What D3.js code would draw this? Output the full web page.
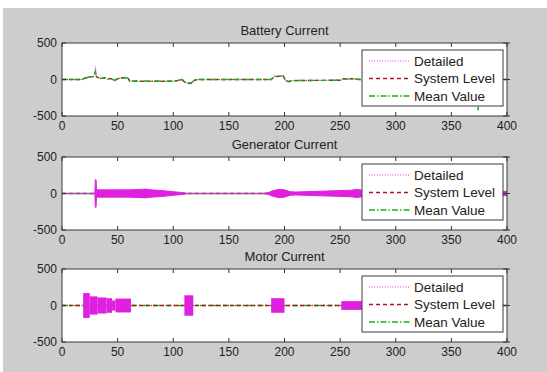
<!DOCTYPE html>
<html>
<head>
<meta charset="utf-8">
<script src="https://cdn.jsdelivr.net/npm/d3@7"></script>
<style>
  body { margin: 0; background: #fff; }
  svg { display: block; }
  text { font-family: "Liberation Sans", Arial, sans-serif; fill: #222; }
</style>
</head>
<body>
<div id="chart"></div>
<script>
// ---- data ----
const titles = ["Battery Current", "Generator Current", "Motor Current"];
const legendLabels = ["Detailed", "System Level", "Mean Value"];
const xTicks = [0, 50, 100, 150, 200, 250, 300, 350, 400];
const yTicks = [-500, 0, 500];

// battery current (A)
const batteryTime     = [0, 18, 20, 24, 28, 29, 30, 31, 32, 35, 38, 41, 44, 47, 50, 53, 56, 59, 61, 100, 104, 108, 111, 116, 119, 122, 188, 191, 199, 201, 204, 207, 250, 253, 262, 268, 372, 374, 376, 378, 400];
const batteryDetailed = [0, 0, 20, 40, 40, 60, 180, 40, 30, 10, 30, 0, 20, -20, 10, 25, 30, 30, -25, -25, -15, -5, -50, -60, -10, 0, 0, 40, 45, -20, -30, -15, -10, 10, 10, 0, 0, 0, 0, 0, 0];
const batterySystem   = [0, 0, 15, 35, 40, 50, 60, 40, 30, 10, 25, 5, 15, -15, 10, 20, 25, 25, -25, -25, -15, -5, -45, -55, -10, 0, 0, 40, 45, -20, -30, -15, -10, 10, 10, 0, 0, 0, 0, 0, 0];
const batteryMean     = [0, 0, 15, 30, 40, 60, 110, 40, 30, 15, 20, 10, 10, -10, 10, 20, 20, 20, -20, -20, -10, 0, -40, -50, -10, 0, 0, 45, 50, -15, -25, -15, -10, 5, 5, 0, 0, -420, 0, 0, 0];

// generator current: envelope of the switching ripple (+/- A)
const generatorTime   = [0, 29.5, 30, 30.6, 31, 40, 60, 70, 75, 80, 90, 100, 110, 112, 180, 185, 190, 195, 200, 205, 210, 260, 265, 270, 275, 400];
const generatorRipple = [0, 0, 190, 190, 50, 50, 50, 55, 60, 50, 40, 25, 10, 0, 0, 10, 40, 55, 50, 25, 20, 45, 55, 45, 30, 30];
const generatorSystem = [0, 0];
const generatorMean   = [0, 0];
const generatorSpan   = [0, 400];

// motor current: switching bursts (start, end, +/- amplitude)
const motorBurstStart = [19, 25, 32, 40, 45, 48, 110, 188, 251, 285];
const motorBurstEnd   = [25, 32, 40, 45, 48, 62, 118, 200, 272, 300];
const motorBurstAmp   = [170, 125, 110, 100, 70, 95, 140, 100, 60, 60];
const motorSystem     = [0, 0];
const motorMean       = [0, 0];
const motorSpan       = [0, 400];

// ---- layout ----
const W = 547, H = 372;
const left = 62, right = 507, plotH = 73;
const tops = [43, 157, 269];

const styles = {
  detailed: { color: "#e040e0", dash: "1,1.6", width: 1 },
  system:   { color: "#b81020", dash: "4,3", width: 1.4 },
  mean:     { color: "#18b018", dash: "6,2,1.5,2", width: 1.4 }
};

const svg = d3.select("#chart").append("svg")
  .attr("width", W).attr("height", H);

svg.append("rect")
  .attr("x", 3).attr("y", 8).attr("width", W - 3).attr("height", H - 8)
  .attr("fill", "#cdcdcd");

const x = d3.scaleLinear().domain([0, 400]).range([left, right]);

function makePanel(i) {
  const top = tops[i];
  const y = d3.scaleLinear().domain([-500, 500]).range([top + plotH, top]);
  const g = svg.append("g");

  g.append("rect")
    .attr("x", left).attr("y", top).attr("width", right - left).attr("height", plotH)
    .attr("fill", "#ffffff");

  const clipId = "clip" + i;
  g.append("clipPath").attr("id", clipId).append("rect")
    .attr("x", left).attr("y", top).attr("width", right - left).attr("height", plotH);
  const plot = g.append("g").attr("clip-path", "url(#" + clipId + ")");

  g.append("text")
    .attr("x", (left + right) / 2).attr("y", top - 8)
    .attr("text-anchor", "middle").attr("font-size", 13)
    .text(titles[i]);

  return { g, plot, y, top };
}

function drawLine(plot, xs, ys, y, st) {
  const line = d3.line().x((d, k) => x(xs[k])).y(d => y(d));
  plot.append("path")
    .datum(ys)
    .attr("d", line)
    .attr("fill", "none")
    .attr("stroke", st.color)
    .attr("stroke-width", st.width)
    .attr("stroke-dasharray", st.dash);
}

function drawAxes(p) {
  const { g, y, top } = p;
  const bottom = top + plotH;
  const tickLen = 4;

  // x ticks (inside, top and bottom) + labels
  xTicks.forEach(t => {
    g.append("line").attr("x1", x(t)).attr("x2", x(t))
      .attr("y1", bottom).attr("y2", bottom - tickLen).attr("stroke", "#333");
    g.append("line").attr("x1", x(t)).attr("x2", x(t))
      .attr("y1", top).attr("y2", top + tickLen).attr("stroke", "#333");
    g.append("text").attr("x", x(t)).attr("y", bottom + 14)
      .attr("text-anchor", "middle").attr("font-size", 12).text(t);
  });
  yTicks.forEach(t => {
    g.append("line").attr("x1", left).attr("x2", left + tickLen)
      .attr("y1", y(t)).attr("y2", y(t)).attr("stroke", "#333");
    g.append("line").attr("x1", right + 3).attr("x2", right - tickLen)
      .attr("y1", y(t)).attr("y2", y(t)).attr("stroke", "#333");
    g.append("text").attr("x", left - 5).attr("y", y(t) + 4)
      .attr("text-anchor", "end").attr("font-size", 12).text(t);
  });

  g.append("rect")
    .attr("x", left).attr("y", top).attr("width", right - left).attr("height", plotH)
    .attr("fill", "none").attr("stroke", "#3a3a3a").attr("stroke-width", 1);
}

function drawLegend(p) {
  const { g, top } = p;
  const lx = 362, lw = 141, ly = top + 7, lh = 56;
  g.append("rect")
    .attr("x", lx).attr("y", ly).attr("width", lw).attr("height", lh)
    .attr("fill", "#fff").attr("stroke", "#3a3a3a").attr("stroke-width", 1);
  const keys = ["detailed", "system", "mean"];
  keys.forEach((k, j) => {
    const yy = ly + 11 + j * 17.5;
    const st = styles[k];
    g.append("line")
      .attr("x1", lx + 7).attr("x2", lx + 48).attr("y1", yy).attr("y2", yy)
      .attr("stroke", st.color).attr("stroke-width", st.width)
      .attr("stroke-dasharray", st.dash);
    g.append("text").attr("x", lx + 52).attr("y", yy + 4.5)
      .attr("font-size", 13.5).text(legendLabels[j]);
  });
}

// ---- panel 1: battery ----
const p1 = makePanel(0);
drawLine(p1.plot, batteryTime, batteryDetailed, p1.y, styles.detailed);
drawLine(p1.plot, batteryTime, batterySystem, p1.y, styles.system);
drawLine(p1.plot, batteryTime, batteryMean, p1.y, styles.mean);
drawAxes(p1);
drawLegend(p1);

// ---- panel 2: generator ----
const p2 = makePanel(1);
const ripple = d3.area()
  .x((d, k) => x(generatorTime[k]))
  .y0(d => p2.y(-d))
  .y1(d => p2.y(d));
drawLine(p2.plot, generatorSpan, generatorSystem, p2.y, styles.system);
drawLine(p2.plot, generatorSpan, generatorMean, p2.y, { color: "#18c018", dash: null, width: 1.6 });
p2.plot.append("path")
  .datum(generatorRipple)
  .attr("d", ripple)
  .attr("fill", "#e020e0")
  .attr("stroke", "#e020e0")
  .attr("stroke-width", 1);
drawAxes(p2);
drawLegend(p2);

// ---- panel 3: motor ----
const p3 = makePanel(2);
drawLine(p3.plot, motorSpan, motorMean, p3.y, styles.mean);
drawLine(p3.plot, motorSpan, motorSystem, p3.y, styles.system);
p3.plot.selectAll("rect.burst")
  .data(motorBurstAmp)
  .join("rect")
  .attr("class", "burst")
  .attr("x", (d, k) => x(motorBurstStart[k]))
  .attr("width", (d, k) => x(motorBurstEnd[k]) - x(motorBurstStart[k]))
  .attr("y", d => p3.y(d))
  .attr("height", d => p3.y(-d) - p3.y(d))
  .attr("fill", "#e020e0");
drawAxes(p3);
drawLegend(p3);
</script>
</body>
</html>
